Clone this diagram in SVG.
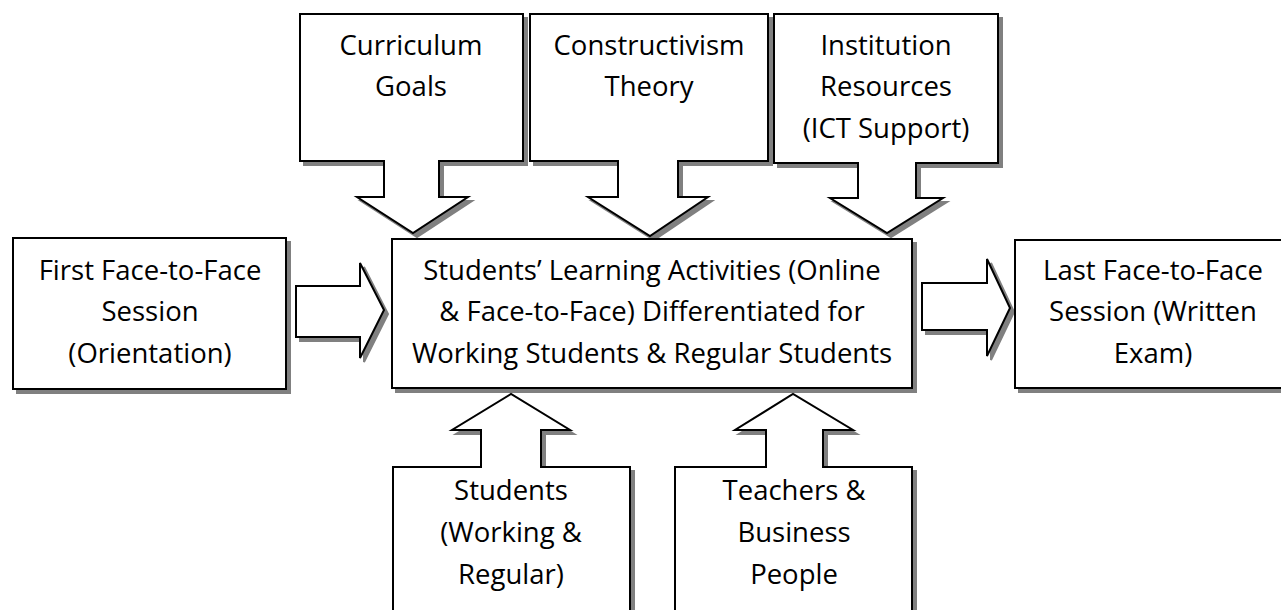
<svg xmlns="http://www.w3.org/2000/svg" width="1281" height="610" viewBox="0 0 1281 610">
<style>
.shape{fill:#fff;stroke:#000;stroke-width:2;stroke-linejoin:miter}
.shadow{fill:#808080;stroke:#808080;stroke-width:2}
text{font-family:"Open Sans","Noto Sans","Liberation Sans",sans-serif;font-size:27.5px;fill:#000;text-anchor:middle}
</style>
<rect width="1281" height="610" fill="#fff"/>
<defs>
<path id="pCurr" d="M300,14 H523 V161 H439 V197 H468 L413,233 L357,197 H384 V161 H300 Z"/>
<path id="pCons" d="M530,14 H768 V161 H678 V197 H708 L650,236 L588,197 H618 V161 H530 Z"/>
<path id="pInst" d="M774,14 H998 V163 H916 V198 H943 L887,233 L830,198 H858 V163 H774 Z"/>
<path id="pStud" d="M393,467 H481 V430 H452 L511,394 L570,430 H541 V467 H630 V620 H393 Z"/>
<path id="pTeach" d="M675,467 H766 V430 H735 L793,394 L853,430 H823 V467 H912 V620 H675 Z"/>
<rect id="rFirst" x="13" y="238" width="273" height="151"/>
<rect id="rCenter" x="392" y="239" width="520" height="149"/>
<rect id="rLast" x="1015" y="240" width="268" height="148"/>
<path id="aLeft" d="M296,286 H360 V263 L384,310 L360,358 V337 H296 Z"/>
<path id="aRight" d="M922,283 H987 V259 L1010,308 L987,356 V330 H922 Z"/>
</defs>
<g id="connectors">
<use href="#aLeft" class="shadow" transform="translate(4,4)"/>
<use href="#aLeft" class="shape"/>
<use href="#aRight" class="shadow" transform="translate(4,4)"/>
<use href="#aRight" class="shape"/>
</g>
<g id="curriculum">
<use href="#pCurr" class="shadow" transform="translate(4,4)"/>
<use href="#pCurr" class="shape"/>
<text x="411" y="55">Curriculum</text>
<text x="411" y="96">Goals</text>
</g>
<g id="constructivism">
<use href="#pCons" class="shadow" transform="translate(4,4)"/>
<use href="#pCons" class="shape"/>
<text x="649" y="55">Constructivism</text>
<text x="649" y="96">Theory</text>
</g>
<g id="institution">
<use href="#pInst" class="shadow" transform="translate(4,4)"/>
<use href="#pInst" class="shape"/>
<text x="886" y="55">Institution</text>
<text x="886" y="96">Resources</text>
<text x="886" y="138">(ICT Support)</text>
</g>
<g id="first">
<use href="#rFirst" class="shadow" transform="translate(4,4)"/>
<use href="#rFirst" class="shape"/>
<text x="150" y="280">First Face-to-Face</text>
<text x="150" y="321">Session</text>
<text x="150" y="363">(Orientation)</text>
</g>
<g id="center">
<use href="#rCenter" class="shadow" transform="translate(4,4)"/>
<use href="#rCenter" class="shape"/>
<text x="652" y="280">Students’ Learning Activities (Online</text>
<text x="652" y="321">&amp; Face-to-Face) Differentiated for</text>
<text x="652" y="363">Working Students &amp; Regular Students</text>
</g>
<g id="last">
<use href="#rLast" class="shadow" transform="translate(4,4)"/>
<use href="#rLast" class="shape"/>
<text x="1153" y="280">Last Face-to-Face</text>
<text x="1153" y="321">Session (Written</text>
<text x="1153" y="363">Exam)</text>
</g>
<g id="students">
<use href="#pStud" class="shadow" transform="translate(4,4)"/>
<use href="#pStud" class="shape"/>
<text x="511" y="500">Students</text>
<text x="511" y="542">(Working &amp;</text>
<text x="511" y="584">Regular)</text>
</g>
<g id="teachers">
<use href="#pTeach" class="shadow" transform="translate(4,4)"/>
<use href="#pTeach" class="shape"/>
<text x="794" y="500">Teachers &amp;</text>
<text x="794" y="542">Business</text>
<text x="794" y="584">People</text>
</g>
</svg>
